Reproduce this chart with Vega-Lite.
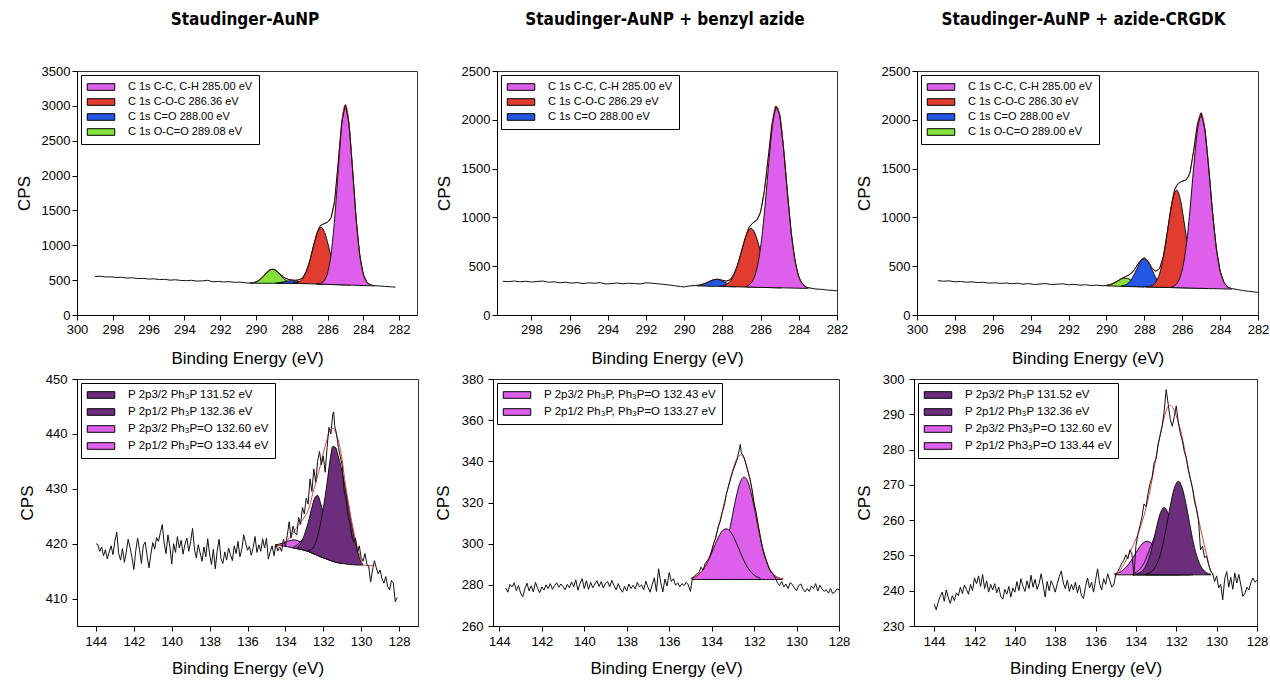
{
"$schema": "https://vega.github.io/schema/vega-lite/v6.json",
"padding": {"left": 14, "top": 10, "right": 0, "bottom": 0},
"bounds": "full",
"spacing": 5,
"resolve": {"scale": {"x": "independent", "y": "independent", "color": "independent"}, "legend": {"color": "independent"}},
"datasets": {
"p1a": [
{"E":290.28,"t":459,"b":455,"c":"C 1s O-C=O 289.08 eV"},{"E":290.08,"t":468,"b":455,"c":"C 1s O-C=O 289.08 eV"},{"E":289.88,"t":489,"b":455,"c":"C 1s O-C=O 289.08 eV"},{"E":289.68,"t":530,"b":455,"c":"C 1s O-C=O 289.08 eV"},{"E":289.48,"t":585,"b":455,"c":"C 1s O-C=O 289.08 eV"},{"E":289.28,"t":636,"b":455,"c":"C 1s O-C=O 289.08 eV"},{"E":289.08,"t":657,"b":455,"c":"C 1s O-C=O 289.08 eV"},{"E":288.88,"t":636,"b":455,"c":"C 1s O-C=O 289.08 eV"},{"E":288.68,"t":585,"b":455,"c":"C 1s O-C=O 289.08 eV"},{"E":288.48,"t":530,"b":455,"c":"C 1s O-C=O 289.08 eV"},{"E":288.28,"t":489,"b":455,"c":"C 1s O-C=O 289.08 eV"},{"E":288.08,"t":468,"b":455,"c":"C 1s O-C=O 289.08 eV"},{"E":287.88,"t":459,"b":455,"c":"C 1s O-C=O 289.08 eV"},
{"E":288.9,"t":455,"b":453,"c":"C 1s C=O 288.00 eV"},{"E":288.8,"t":460,"b":453,"c":"C 1s C=O 288.00 eV"},{"E":288.6,"t":468,"b":453,"c":"C 1s C=O 288.00 eV"},{"E":288.4,"t":479,"b":453,"c":"C 1s C=O 288.00 eV"},{"E":288.2,"t":489,"b":453,"c":"C 1s C=O 288.00 eV"},{"E":288.0,"t":493,"b":453,"c":"C 1s C=O 288.00 eV"},{"E":287.8,"t":489,"b":453,"c":"C 1s C=O 288.00 eV"},{"E":287.6,"t":479,"b":453,"c":"C 1s C=O 288.00 eV"},{"E":287.4,"t":468,"b":453,"c":"C 1s C=O 288.00 eV"},{"E":287.2,"t":460,"b":453,"c":"C 1s C=O 288.00 eV"},{"E":287.1,"t":455,"b":453,"c":"C 1s C=O 288.00 eV"},
{"E":287.96,"t":457,"b":455,"c":"C 1s C-O-C 286.36 eV"},{"E":287.76,"t":462,"b":453,"c":"C 1s C-O-C 286.36 eV"},{"E":287.56,"t":482,"b":452,"c":"C 1s C-O-C 286.36 eV"},{"E":287.36,"t":532,"b":450,"c":"C 1s C-O-C 286.36 eV"},{"E":287.16,"t":637,"b":449,"c":"C 1s C-O-C 286.36 eV"},{"E":286.96,"t":804,"b":447,"c":"C 1s C-O-C 286.36 eV"},{"E":286.76,"t":1010,"b":445,"c":"C 1s C-O-C 286.36 eV"},{"E":286.56,"t":1187,"b":444,"c":"C 1s C-O-C 286.36 eV"},{"E":286.36,"t":1257,"b":442,"c":"C 1s C-O-C 286.36 eV"},{"E":286.16,"t":1183,"b":440,"c":"C 1s C-O-C 286.36 eV"},{"E":285.96,"t":1004,"b":439,"c":"C 1s C-O-C 286.36 eV"},{"E":285.76,"t":794,"b":437,"c":"C 1s C-O-C 286.36 eV"},{"E":285.56,"t":624,"b":436,"c":"C 1s C-O-C 286.36 eV"},{"E":285.36,"t":516,"b":434,"c":"C 1s C-O-C 286.36 eV"},{"E":285.16,"t":462,"b":432,"c":"C 1s C-O-C 286.36 eV"},{"E":284.96,"t":440,"b":431,"c":"C 1s C-O-C 286.36 eV"},{"E":284.76,"t":431,"b":429,"c":"C 1s C-O-C 286.36 eV"},
{"E":286.6,"t":446,"b":444,"c":"C 1s C-C, C-H 285.00 eV"},{"E":286.4,"t":453,"b":442,"c":"C 1s C-C, C-H 285.00 eV"},{"E":286.2,"t":489,"b":441,"c":"C 1s C-C, C-H 285.00 eV"},{"E":286.0,"t":600,"b":439,"c":"C 1s C-C, C-H 285.00 eV"},{"E":285.8,"t":875,"b":437,"c":"C 1s C-C, C-H 285.00 eV"},{"E":285.6,"t":1387,"b":436,"c":"C 1s C-C, C-H 285.00 eV"},{"E":285.4,"t":2088,"b":434,"c":"C 1s C-C, C-H 285.00 eV"},{"E":285.2,"t":2739,"b":433,"c":"C 1s C-C, C-H 285.00 eV"},{"E":285.0,"t":3008,"b":431,"c":"C 1s C-C, C-H 285.00 eV"},{"E":284.8,"t":2735,"b":429,"c":"C 1s C-C, C-H 285.00 eV"},{"E":284.6,"t":2082,"b":428,"c":"C 1s C-C, C-H 285.00 eV"},{"E":284.4,"t":1377,"b":426,"c":"C 1s C-C, C-H 285.00 eV"},{"E":284.2,"t":862,"b":424,"c":"C 1s C-C, C-H 285.00 eV"},{"E":284.0,"t":584,"b":423,"c":"C 1s C-C, C-H 285.00 eV"},{"E":283.8,"t":469,"b":421,"c":"C 1s C-C, C-H 285.00 eV"},{"E":283.6,"t":431,"b":420,"c":"C 1s C-C, C-H 285.00 eV"},{"E":283.4,"t":420,"b":418,"c":"C 1s C-C, C-H 285.00 eV"}
],
"p1f": [
{"E":290.4,"v":457},{"E":290.2,"v":461},{"E":290.0,"v":474},{"E":289.8,"v":503},{"E":289.6,"v":551},{"E":289.4,"v":607},{"E":289.2,"v":649},{"E":289.0,"v":656},{"E":288.8,"v":625},{"E":288.6,"v":575},{"E":288.4,"v":535},{"E":288.2,"v":513},{"E":288.0,"v":502},{"E":287.8,"v":498},{"E":287.6,"v":503},{"E":287.4,"v":533},{"E":287.2,"v":617},{"E":287.0,"v":768},{"E":286.8,"v":975},{"E":286.6,"v":1170},{"E":286.4,"v":1280},{"E":286.2,"v":1310},{"E":286.0,"v":1330},{"E":285.8,"v":1400},{"E":285.6,"v":1640},{"E":285.4,"v":2190},{"E":285.2,"v":2776},{"E":285.0,"v":3020},{"E":284.8,"v":2738},{"E":284.6,"v":2083},{"E":284.4,"v":1377},{"E":284.2,"v":862},{"E":284.0,"v":584},{"E":283.8,"v":469},{"E":283.6,"v":431},{"E":283.4,"v":420}
],
"p1r": [
{"E":299.0,"v":552},{"E":298.7,"v":556},{"E":298.4,"v":545},{"E":298.1,"v":548},{"E":297.8,"v":538},{"E":297.5,"v":541},{"E":297.2,"v":530},{"E":296.9,"v":534},{"E":296.6,"v":522},{"E":296.3,"v":526},{"E":296.0,"v":515},{"E":295.7,"v":519},{"E":295.4,"v":508},{"E":295.1,"v":512},{"E":294.8,"v":500},{"E":294.5,"v":505},{"E":294.2,"v":496},{"E":293.9,"v":492},{"E":293.6,"v":498},{"E":293.3,"v":486},{"E":293.0,"v":490},{"E":292.7,"v":497},{"E":292.4,"v":476},{"E":292.1,"v":482},{"E":291.8,"v":474},{"E":291.5,"v":478},{"E":291.2,"v":468},{"E":290.9,"v":472},{"E":290.6,"v":462},{"E":290.4,"v":458},{"E":290.2,"v":463},{"E":290.0,"v":472},{"E":289.8,"v":505},{"E":289.6,"v":550},{"E":289.4,"v":608},{"E":289.2,"v":648},{"E":289.0,"v":655},{"E":288.8,"v":624},{"E":288.6,"v":576},{"E":288.4,"v":534},{"E":288.2,"v":512},{"E":288.0,"v":503},{"E":287.8,"v":497},{"E":287.6,"v":505},{"E":287.4,"v":532},{"E":287.2,"v":618},{"E":287.0,"v":766},{"E":286.8,"v":976},{"E":286.6,"v":1168},{"E":286.4,"v":1282},{"E":286.2,"v":1308},{"E":286.0,"v":1332},{"E":285.8,"v":1398},{"E":285.6,"v":1642},{"E":285.4,"v":2192},{"E":285.2,"v":2775},{"E":285.0,"v":3015},{"E":284.8,"v":2740},{"E":284.6,"v":2085},{"E":284.4,"v":1378},{"E":284.2,"v":863},{"E":284.0,"v":585},{"E":283.8,"v":470},{"E":283.6,"v":432},{"E":283.4,"v":421},{"E":283.1,"v":416},{"E":282.8,"v":410},{"E":282.5,"v":405},{"E":282.2,"v":400}
],
"p2a": [
{"E":289.3,"t":298,"b":298,"c":"C 1s C=O 288.00 eV"},{"E":289.1,"t":309,"b":297,"c":"C 1s C=O 288.00 eV"},{"E":288.9,"t":323,"b":296,"c":"C 1s C=O 288.00 eV"},{"E":288.7,"t":341,"b":295,"c":"C 1s C=O 288.00 eV"},{"E":288.5,"t":359,"b":294,"c":"C 1s C=O 288.00 eV"},{"E":288.3,"t":366,"b":294,"c":"C 1s C=O 288.00 eV"},{"E":288.1,"t":357,"b":293,"c":"C 1s C=O 288.00 eV"},{"E":287.9,"t":338,"b":292,"c":"C 1s C=O 288.00 eV"},{"E":287.7,"t":318,"b":291,"c":"C 1s C=O 288.00 eV"},{"E":287.5,"t":302,"b":290,"c":"C 1s C=O 288.00 eV"},{"E":287.3,"t":290,"b":289,"c":"C 1s C=O 288.00 eV"},
{"E":288.1,"t":296,"b":293,"c":"C 1s C-O-C 286.29 eV"},{"E":287.9,"t":304,"b":292,"c":"C 1s C-O-C 286.29 eV"},{"E":287.7,"t":325,"b":291,"c":"C 1s C-O-C 286.29 eV"},{"E":287.5,"t":371,"b":290,"c":"C 1s C-O-C 286.29 eV"},{"E":287.3,"t":456,"b":289,"c":"C 1s C-O-C 286.29 eV"},{"E":287.1,"t":580,"b":288,"c":"C 1s C-O-C 286.29 eV"},{"E":286.9,"t":723,"b":287,"c":"C 1s C-O-C 286.29 eV"},{"E":286.7,"t":840,"b":286,"c":"C 1s C-O-C 286.29 eV"},{"E":286.5,"t":886,"b":286,"c":"C 1s C-O-C 286.29 eV"},{"E":286.3,"t":839,"b":285,"c":"C 1s C-O-C 286.29 eV"},{"E":286.1,"t":720,"b":284,"c":"C 1s C-O-C 286.29 eV"},{"E":285.9,"t":575,"b":283,"c":"C 1s C-O-C 286.29 eV"},{"E":285.7,"t":449,"b":282,"c":"C 1s C-O-C 286.29 eV"},{"E":285.5,"t":362,"b":281,"c":"C 1s C-O-C 286.29 eV"},{"E":285.3,"t":314,"b":280,"c":"C 1s C-O-C 286.29 eV"},{"E":285.1,"t":291,"b":279,"c":"C 1s C-O-C 286.29 eV"},{"E":284.9,"t":282,"b":278,"c":"C 1s C-O-C 286.29 eV"},
{"E":286.75,"t":296,"b":287,"c":"C 1s C-C, C-H 285.00 eV"},{"E":286.55,"t":317,"b":286,"c":"C 1s C-C, C-H 285.00 eV"},{"E":286.35,"t":377,"b":285,"c":"C 1s C-C, C-H 285.00 eV"},{"E":286.15,"t":515,"b":284,"c":"C 1s C-C, C-H 285.00 eV"},{"E":285.95,"t":771,"b":283,"c":"C 1s C-C, C-H 285.00 eV"},{"E":285.75,"t":1156,"b":282,"c":"C 1s C-C, C-H 285.00 eV"},{"E":285.55,"t":1607,"b":281,"c":"C 1s C-C, C-H 285.00 eV"},{"E":285.35,"t":1983,"b":280,"c":"C 1s C-C, C-H 285.00 eV"},{"E":285.15,"t":2129,"b":279,"c":"C 1s C-C, C-H 285.00 eV"},{"E":284.95,"t":1981,"b":279,"c":"C 1s C-C, C-H 285.00 eV"},{"E":284.75,"t":1604,"b":278,"c":"C 1s C-C, C-H 285.00 eV"},{"E":284.55,"t":1151,"b":277,"c":"C 1s C-C, C-H 285.00 eV"},{"E":284.35,"t":764,"b":276,"c":"C 1s C-C, C-H 285.00 eV"},{"E":284.15,"t":506,"b":275,"c":"C 1s C-C, C-H 285.00 eV"},{"E":283.95,"t":366,"b":274,"c":"C 1s C-C, C-H 285.00 eV"},{"E":283.75,"t":304,"b":273,"c":"C 1s C-C, C-H 285.00 eV"},{"E":283.55,"t":281,"b":272,"c":"C 1s C-C, C-H 285.00 eV"}
],
"p2f": [
{"E":289.6,"v":300},{"E":289.4,"v":301},{"E":289.2,"v":306},{"E":289.0,"v":316},{"E":288.8,"v":332},{"E":288.6,"v":351},{"E":288.4,"v":364},{"E":288.2,"v":365},{"E":288.0,"v":355},{"E":287.8,"v":347},{"E":287.6,"v":362},{"E":287.4,"v":416},{"E":287.2,"v":516},{"E":287.0,"v":653},{"E":286.8,"v":794},{"E":286.6,"v":897},{"E":286.4,"v":944},{"E":286.2,"v":971},{"E":286.0,"v":1058},{"E":285.8,"v":1274},{"E":285.6,"v":1614},{"E":285.4,"v":1958},{"E":285.2,"v":2141},{"E":285.0,"v":2052},{"E":284.8,"v":1714},{"E":284.6,"v":1262},{"E":284.4,"v":849},{"E":284.2,"v":558},{"E":284.0,"v":392},{"E":283.8,"v":314},{"E":283.6,"v":285},{"E":283.4,"v":275}
],
"p2r": [
{"E":299.5,"v":345},{"E":299.2,"v":342},{"E":298.9,"v":348},{"E":298.6,"v":340},{"E":298.3,"v":346},{"E":298.0,"v":338},{"E":297.7,"v":344},{"E":297.4,"v":348},{"E":297.1,"v":336},{"E":296.8,"v":340},{"E":296.5,"v":330},{"E":296.2,"v":336},{"E":295.9,"v":326},{"E":295.6,"v":333},{"E":295.3,"v":322},{"E":295.0,"v":330},{"E":294.7,"v":325},{"E":294.4,"v":332},{"E":294.1,"v":318},{"E":293.8,"v":322},{"E":293.5,"v":328},{"E":293.2,"v":320},{"E":292.9,"v":326},{"E":292.6,"v":322},{"E":292.3,"v":318},{"E":292.0,"v":330},{"E":291.7,"v":326},{"E":291.4,"v":320},{"E":291.1,"v":315},{"E":290.8,"v":308},{"E":290.5,"v":300},{"E":290.2,"v":292},{"E":290.0,"v":287},{"E":289.8,"v":296},{"E":289.6,"v":300},{"E":289.4,"v":303},{"E":289.2,"v":306},{"E":289.0,"v":318},{"E":288.8,"v":332},{"E":288.6,"v":352},{"E":288.4,"v":363},{"E":288.2,"v":366},{"E":288.0,"v":355},{"E":287.8,"v":348},{"E":287.6,"v":361},{"E":287.4,"v":417},{"E":287.2,"v":515},{"E":287.0,"v":655},{"E":286.8,"v":792},{"E":286.6,"v":898},{"E":286.4,"v":945},{"E":286.2,"v":972},{"E":286.0,"v":1056},{"E":285.8,"v":1276},{"E":285.6,"v":1612},{"E":285.4,"v":1960},{"E":285.2,"v":2140},{"E":285.0,"v":2054},{"E":284.8,"v":1712},{"E":284.6,"v":1264},{"E":284.4,"v":848},{"E":284.2,"v":560},{"E":284.0,"v":390},{"E":283.8,"v":315},{"E":283.6,"v":284},{"E":283.4,"v":276},{"E":283.1,"v":266},{"E":282.8,"v":263},{"E":282.5,"v":255},{"E":282.2,"v":252},{"E":282.0,"v":248}
],
"p3a": [
{"E":290.0,"t":303,"b":298,"c":"C 1s O-C=O 289.00 eV"},{"E":289.8,"t":311,"b":297,"c":"C 1s O-C=O 289.00 eV"},{"E":289.6,"t":327,"b":296,"c":"C 1s O-C=O 289.00 eV"},{"E":289.4,"t":350,"b":295,"c":"C 1s O-C=O 289.00 eV"},{"E":289.2,"t":370,"b":294,"c":"C 1s O-C=O 289.00 eV"},{"E":289.0,"t":378,"b":293,"c":"C 1s O-C=O 289.00 eV"},{"E":288.8,"t":368,"b":292,"c":"C 1s O-C=O 289.00 eV"},{"E":288.6,"t":346,"b":291,"c":"C 1s O-C=O 289.00 eV"},{"E":288.4,"t":321,"b":290,"c":"C 1s O-C=O 289.00 eV"},{"E":288.2,"t":303,"b":289,"c":"C 1s O-C=O 289.00 eV"},{"E":288.0,"t":293,"b":288,"c":"C 1s O-C=O 289.00 eV"},
{"E":289.2,"t":298,"b":294,"c":"C 1s C=O 288.00 eV"},{"E":289.0,"t":308,"b":293,"c":"C 1s C=O 288.00 eV"},{"E":288.8,"t":335,"b":292,"c":"C 1s C=O 288.00 eV"},{"E":288.6,"t":390,"b":291,"c":"C 1s C=O 288.00 eV"},{"E":288.4,"t":470,"b":290,"c":"C 1s C=O 288.00 eV"},{"E":288.2,"t":546,"b":289,"c":"C 1s C=O 288.00 eV"},{"E":288.0,"t":578,"b":288,"c":"C 1s C=O 288.00 eV"},{"E":287.8,"t":544,"b":287,"c":"C 1s C=O 288.00 eV"},{"E":287.6,"t":466,"b":286,"c":"C 1s C=O 288.00 eV"},{"E":287.4,"t":384,"b":285,"c":"C 1s C=O 288.00 eV"},{"E":287.2,"t":327,"b":284,"c":"C 1s C=O 288.00 eV"},{"E":287.0,"t":298,"b":283,"c":"C 1s C=O 288.00 eV"},{"E":286.8,"t":286,"b":282,"c":"C 1s C=O 288.00 eV"},
{"E":287.9,"t":290,"b":288,"c":"C 1s C-O-C 286.30 eV"},{"E":287.7,"t":295,"b":287,"c":"C 1s C-O-C 286.30 eV"},{"E":287.5,"t":314,"b":286,"c":"C 1s C-O-C 286.30 eV"},{"E":287.3,"t":370,"b":285,"c":"C 1s C-O-C 286.30 eV"},{"E":287.1,"t":490,"b":284,"c":"C 1s C-O-C 286.30 eV"},{"E":286.9,"t":694,"b":283,"c":"C 1s C-O-C 286.30 eV"},{"E":286.7,"t":956,"b":282,"c":"C 1s C-O-C 286.30 eV"},{"E":286.5,"t":1187,"b":281,"c":"C 1s C-O-C 286.30 eV"},{"E":286.3,"t":1280,"b":280,"c":"C 1s C-O-C 286.30 eV"},{"E":286.1,"t":1185,"b":279,"c":"C 1s C-O-C 286.30 eV"},{"E":285.9,"t":952,"b":278,"c":"C 1s C-O-C 286.30 eV"},{"E":285.7,"t":688,"b":277,"c":"C 1s C-O-C 286.30 eV"},{"E":285.5,"t":482,"b":276,"c":"C 1s C-O-C 286.30 eV"},{"E":285.3,"t":360,"b":275,"c":"C 1s C-O-C 286.30 eV"},{"E":285.1,"t":303,"b":274,"c":"C 1s C-O-C 286.30 eV"},{"E":284.9,"t":281,"b":273,"c":"C 1s C-O-C 286.30 eV"},{"E":284.7,"t":274,"b":272,"c":"C 1s C-O-C 286.30 eV"},
{"E":286.6,"t":286,"b":281,"c":"C 1s C-C, C-H 285.00 eV"},{"E":286.4,"t":301,"b":280,"c":"C 1s C-C, C-H 285.00 eV"},{"E":286.2,"t":347,"b":279,"c":"C 1s C-C, C-H 285.00 eV"},{"E":286.0,"t":462,"b":278,"c":"C 1s C-C, C-H 285.00 eV"},{"E":285.8,"t":692,"b":277,"c":"C 1s C-C, C-H 285.00 eV"},{"E":285.6,"t":1058,"b":276,"c":"C 1s C-C, C-H 285.00 eV"},{"E":285.4,"t":1504,"b":275,"c":"C 1s C-C, C-H 285.00 eV"},{"E":285.2,"t":1886,"b":274,"c":"C 1s C-C, C-H 285.00 eV"},{"E":285.0,"t":2038,"b":273,"c":"C 1s C-C, C-H 285.00 eV"},{"E":284.8,"t":1884,"b":272,"c":"C 1s C-C, C-H 285.00 eV"},{"E":284.6,"t":1500,"b":271,"c":"C 1s C-C, C-H 285.00 eV"},{"E":284.4,"t":1052,"b":270,"c":"C 1s C-C, C-H 285.00 eV"},{"E":284.2,"t":684,"b":269,"c":"C 1s C-C, C-H 285.00 eV"},{"E":284.0,"t":452,"b":268,"c":"C 1s C-C, C-H 285.00 eV"},{"E":283.8,"t":335,"b":267,"c":"C 1s C-C, C-H 285.00 eV"},{"E":283.6,"t":287,"b":266,"c":"C 1s C-C, C-H 285.00 eV"},{"E":283.4,"t":270,"b":265,"c":"C 1s C-C, C-H 285.00 eV"}
],
"p3f": [
{"E":290.2,"v":300},{"E":290.0,"v":303},{"E":289.8,"v":311},{"E":289.6,"v":327},{"E":289.4,"v":350},{"E":289.2,"v":374},{"E":289.0,"v":393},{"E":288.8,"v":411},{"E":288.6,"v":444},{"E":288.4,"v":501},{"E":288.2,"v":560},{"E":288.0,"v":584},{"E":287.8,"v":550},{"E":287.6,"v":481},{"E":287.4,"v":450},{"E":287.2,"v":475},{"E":287.0,"v":600},{"E":286.8,"v":830},{"E":286.6,"v":1090},{"E":286.4,"v":1285},{"E":286.2,"v":1350},{"E":286.0,"v":1370},{"E":285.8,"v":1385},{"E":285.6,"v":1450},{"E":285.4,"v":1680},{"E":285.2,"v":1950},{"E":285.0,"v":2070},{"E":284.8,"v":1900},{"E":284.6,"v":1505},{"E":284.4,"v":1052},{"E":284.2,"v":684},{"E":284.0,"v":452},{"E":283.8,"v":335},{"E":283.6,"v":287},{"E":283.4,"v":270}
],
"p3r": [
{"E":298.9,"v":352},{"E":298.6,"v":346},{"E":298.3,"v":350},{"E":298.0,"v":340},{"E":297.7,"v":344},{"E":297.4,"v":336},{"E":297.1,"v":340},{"E":296.8,"v":332},{"E":296.5,"v":336},{"E":296.2,"v":326},{"E":295.9,"v":330},{"E":295.6,"v":324},{"E":295.3,"v":328},{"E":295.0,"v":320},{"E":294.7,"v":326},{"E":294.4,"v":316},{"E":294.1,"v":322},{"E":293.8,"v":312},{"E":293.5,"v":318},{"E":293.2,"v":322},{"E":292.9,"v":312},{"E":292.6,"v":316},{"E":292.3,"v":320},{"E":292.0,"v":310},{"E":291.7,"v":314},{"E":291.4,"v":306},{"E":291.1,"v":310},{"E":290.8,"v":302},{"E":290.5,"v":306},{"E":290.2,"v":299},{"E":290.0,"v":304},{"E":289.8,"v":310},{"E":289.6,"v":328},{"E":289.4,"v":349},{"E":289.2,"v":375},{"E":289.0,"v":392},{"E":288.8,"v":412},{"E":288.6,"v":443},{"E":288.4,"v":502},{"E":288.2,"v":559},{"E":288.0,"v":586},{"E":287.8,"v":549},{"E":287.6,"v":482},{"E":287.4,"v":449},{"E":287.2,"v":476},{"E":287.0,"v":598},{"E":286.8,"v":832},{"E":286.6,"v":1088},{"E":286.4,"v":1287},{"E":286.2,"v":1348},{"E":286.0,"v":1372},{"E":285.8,"v":1383},{"E":285.6,"v":1452},{"E":285.4,"v":1678},{"E":285.2,"v":1952},{"E":285.0,"v":2072},{"E":284.8,"v":1898},{"E":284.6,"v":1506},{"E":284.4,"v":1050},{"E":284.2,"v":686},{"E":284.0,"v":451},{"E":283.8,"v":336},{"E":283.6,"v":286},{"E":283.4,"v":271},{"E":283.1,"v":262},{"E":282.8,"v":250},{"E":282.5,"v":244},{"E":282.2,"v":236},{"E":282.0,"v":232}
],
"p4a": [
{"E":134.5,"t":419.8,"b":419.75,"c":"P 2p1/2 Ph₃P=O 133.44 eV"},{"E":134.3,"t":419.95,"b":419.65,"c":"P 2p1/2 Ph₃P=O 133.44 eV"},{"E":134.1,"t":420.15,"b":419.55,"c":"P 2p1/2 Ph₃P=O 133.44 eV"},{"E":133.9,"t":420.4,"b":419.45,"c":"P 2p1/2 Ph₃P=O 133.44 eV"},{"E":133.7,"t":420.6,"b":419.3,"c":"P 2p1/2 Ph₃P=O 133.44 eV"},{"E":133.55,"t":420.7,"b":419.2,"c":"P 2p1/2 Ph₃P=O 133.44 eV"},{"E":133.4,"t":420.6,"b":419.1,"c":"P 2p1/2 Ph₃P=O 133.44 eV"},{"E":133.2,"t":420.3,"b":419.0,"c":"P 2p1/2 Ph₃P=O 133.44 eV"},{"E":133.0,"t":419.9,"b":418.8,"c":"P 2p1/2 Ph₃P=O 133.44 eV"},{"E":132.8,"t":419.4,"b":418.6,"c":"P 2p1/2 Ph₃P=O 133.44 eV"},{"E":132.6,"t":418.9,"b":418.3,"c":"P 2p1/2 Ph₃P=O 133.44 eV"},{"E":132.4,"t":418.3,"b":418.0,"c":"P 2p1/2 Ph₃P=O 133.44 eV"},{"E":132.2,"t":417.75,"b":417.7,"c":"P 2p1/2 Ph₃P=O 133.44 eV"},
{"E":133.6,"t":419.3,"b":419.25,"c":"P 2p3/2 Ph₃P=O 132.60 eV"},{"E":133.4,"t":419.7,"b":419.1,"c":"P 2p3/2 Ph₃P=O 132.60 eV"},{"E":133.2,"t":420.4,"b":419.0,"c":"P 2p3/2 Ph₃P=O 132.60 eV"},{"E":133.0,"t":421.1,"b":418.8,"c":"P 2p3/2 Ph₃P=O 132.60 eV"},{"E":132.8,"t":421.7,"b":418.6,"c":"P 2p3/2 Ph₃P=O 132.60 eV"},{"E":132.65,"t":421.9,"b":418.4,"c":"P 2p3/2 Ph₃P=O 132.60 eV"},{"E":132.5,"t":421.6,"b":418.15,"c":"P 2p3/2 Ph₃P=O 132.60 eV"},{"E":132.3,"t":420.6,"b":417.9,"c":"P 2p3/2 Ph₃P=O 132.60 eV"},{"E":132.1,"t":419.5,"b":417.55,"c":"P 2p3/2 Ph₃P=O 132.60 eV"},{"E":131.9,"t":418.5,"b":417.3,"c":"P 2p3/2 Ph₃P=O 132.60 eV"},{"E":131.7,"t":417.6,"b":417.05,"c":"P 2p3/2 Ph₃P=O 132.60 eV"},{"E":131.5,"t":417.0,"b":416.8,"c":"P 2p3/2 Ph₃P=O 132.60 eV"},{"E":131.3,"t":416.65,"b":416.6,"c":"P 2p3/2 Ph₃P=O 132.60 eV"},
{"E":133.4,"t":419.3,"b":419.1,"c":"P 2p1/2 Ph₃P 132.36 eV"},{"E":133.2,"t":420.0,"b":419.0,"c":"P 2p1/2 Ph₃P 132.36 eV"},{"E":133.0,"t":421.6,"b":418.8,"c":"P 2p1/2 Ph₃P 132.36 eV"},{"E":132.8,"t":423.8,"b":418.6,"c":"P 2p1/2 Ph₃P 132.36 eV"},{"E":132.6,"t":426.6,"b":418.3,"c":"P 2p1/2 Ph₃P 132.36 eV"},{"E":132.45,"t":428.3,"b":418.1,"c":"P 2p1/2 Ph₃P 132.36 eV"},{"E":132.3,"t":428.8,"b":417.9,"c":"P 2p1/2 Ph₃P 132.36 eV"},{"E":132.15,"t":427.5,"b":417.6,"c":"P 2p1/2 Ph₃P 132.36 eV"},{"E":132.0,"t":425.6,"b":417.4,"c":"P 2p1/2 Ph₃P 132.36 eV"},{"E":131.8,"t":423.6,"b":417.2,"c":"P 2p1/2 Ph₃P 132.36 eV"},{"E":131.6,"t":421.2,"b":416.9,"c":"P 2p1/2 Ph₃P 132.36 eV"},{"E":131.4,"t":418.8,"b":416.7,"c":"P 2p1/2 Ph₃P 132.36 eV"},{"E":131.2,"t":417.0,"b":416.5,"c":"P 2p1/2 Ph₃P 132.36 eV"},{"E":131.0,"t":416.45,"b":416.4,"c":"P 2p1/2 Ph₃P 132.36 eV"},
{"E":132.8,"t":418.7,"b":418.6,"c":"P 2p3/2 Ph₃P 131.52 eV"},{"E":132.6,"t":419.0,"b":418.3,"c":"P 2p3/2 Ph₃P 131.52 eV"},{"E":132.4,"t":420.2,"b":418.0,"c":"P 2p3/2 Ph₃P 131.52 eV"},{"E":132.2,"t":422.8,"b":417.7,"c":"P 2p3/2 Ph₃P 131.52 eV"},{"E":132.0,"t":426.5,"b":417.4,"c":"P 2p3/2 Ph₃P 131.52 eV"},{"E":131.8,"t":431.0,"b":417.2,"c":"P 2p3/2 Ph₃P 131.52 eV"},{"E":131.65,"t":435.0,"b":416.95,"c":"P 2p3/2 Ph₃P 131.52 eV"},{"E":131.5,"t":437.7,"b":416.8,"c":"P 2p3/2 Ph₃P 131.52 eV"},{"E":131.35,"t":437.5,"b":416.6,"c":"P 2p3/2 Ph₃P 131.52 eV"},{"E":131.2,"t":435.8,"b":416.5,"c":"P 2p3/2 Ph₃P 131.52 eV"},{"E":131.0,"t":433.0,"b":416.4,"c":"P 2p3/2 Ph₃P 131.52 eV"},{"E":130.8,"t":429.5,"b":416.3,"c":"P 2p3/2 Ph₃P 131.52 eV"},{"E":130.6,"t":425.5,"b":416.2,"c":"P 2p3/2 Ph₃P 131.52 eV"},{"E":130.4,"t":421.8,"b":416.15,"c":"P 2p3/2 Ph₃P 131.52 eV"},{"E":130.2,"t":418.8,"b":416.1,"c":"P 2p3/2 Ph₃P 131.52 eV"},{"E":130.0,"t":416.6,"b":416.1,"c":"P 2p3/2 Ph₃P 131.52 eV"},{"E":129.9,"t":416.1,"b":416.1,"c":"P 2p3/2 Ph₃P 131.52 eV"}
],
"p4f": [
{"E":134.6,"v":419.4},{"E":134.26,"v":419.75},{"E":133.9,"v":420.6},{"E":133.65,"v":421.7},{"E":133.3,"v":423.5},{"E":133.0,"v":424.8},{"E":132.78,"v":426.2},{"E":132.55,"v":429.2},{"E":132.35,"v":431.7},{"E":132.15,"v":434.3},{"E":132.0,"v":436.5},{"E":131.8,"v":439.0},{"E":131.65,"v":440.7},{"E":131.48,"v":441.0},{"E":131.3,"v":439.8},{"E":131.13,"v":437.7},{"E":131.0,"v":435.2},{"E":130.87,"v":431.7},{"E":130.7,"v":428.0},{"E":130.52,"v":424.4},{"E":130.35,"v":421.5},{"E":130.17,"v":419.0},{"E":130.0,"v":417.0},{"E":129.91,"v":416.2},{"E":129.7,"v":416.0},{"E":129.3,"v":416.0}
],
"p4r": [
{"E":144.0,"v":420.0},{"E":143.9,"v":419.8},{"E":143.8,"v":418.6},{"E":143.7,"v":419.4},{"E":143.6,"v":417.8},{"E":143.5,"v":418.9},{"E":143.4,"v":417.2},{"E":143.3,"v":418.5},{"E":143.2,"v":419.6},{"E":143.1,"v":418.0},{"E":143.0,"v":420.5},{"E":142.9,"v":422.1},{"E":142.8,"v":418.2},{"E":142.7,"v":417.0},{"E":142.6,"v":419.1},{"E":142.5,"v":416.6},{"E":142.4,"v":418.4},{"E":142.3,"v":420.8},{"E":142.2,"v":419.3},{"E":142.1,"v":417.5},{"E":142.0,"v":415.3},{"E":141.9,"v":418.7},{"E":141.8,"v":421.0},{"E":141.7,"v":418.9},{"E":141.6,"v":416.4},{"E":141.5,"v":419.7},{"E":141.4,"v":420.3},{"E":141.3,"v":417.8},{"E":141.2,"v":415.6},{"E":141.1,"v":418.1},{"E":141.0,"v":420.2},{"E":140.9,"v":419.0},{"E":140.8,"v":421.1},{"E":140.7,"v":420.4},{"E":140.6,"v":422.0},{"E":140.5,"v":423.5},{"E":140.4,"v":420.1},{"E":140.3,"v":418.2},{"E":140.2,"v":421.6},{"E":140.1,"v":419.5},{"E":140.0,"v":416.3},{"E":139.9,"v":420.0},{"E":139.8,"v":418.4},{"E":139.7,"v":421.3},{"E":139.6,"v":419.2},{"E":139.5,"v":420.6},{"E":139.4,"v":418.1},{"E":139.3,"v":419.9},{"E":139.2,"v":421.0},{"E":139.1,"v":418.6},{"E":139.0,"v":420.4},{"E":138.9,"v":422.8},{"E":138.8,"v":419.0},{"E":138.7,"v":417.4},{"E":138.6,"v":419.8},{"E":138.5,"v":418.3},{"E":138.4,"v":416.8},{"E":138.3,"v":419.4},{"E":138.2,"v":417.6},{"E":138.1,"v":420.9},{"E":138.0,"v":418.1},{"E":137.9,"v":416.2},{"E":137.8,"v":419.0},{"E":137.7,"v":415.4},{"E":137.6,"v":418.7},{"E":137.5,"v":420.8},{"E":137.4,"v":417.3},{"E":137.3,"v":416.4},{"E":137.2,"v":418.5},{"E":137.1,"v":417.0},{"E":137.0,"v":419.2},{"E":136.9,"v":418.0},{"E":136.8,"v":416.9},{"E":136.7,"v":419.6},{"E":136.6,"v":418.2},{"E":136.5,"v":420.4},{"E":136.4,"v":417.6},{"E":136.3,"v":419.0},{"E":136.2,"v":421.6},{"E":136.1,"v":420.2},{"E":136.0,"v":418.8},{"E":135.9,"v":419.5},{"E":135.8,"v":417.9},{"E":135.7,"v":419.3},{"E":135.6,"v":421.3},{"E":135.5,"v":418.4},{"E":135.4,"v":419.8},{"E":135.3,"v":418.6},{"E":135.2,"v":420.9},{"E":135.1,"v":419.2},{"E":135.0,"v":421.0},{"E":134.9,"v":417.2},{"E":134.8,"v":418.5},{"E":134.7,"v":419.6},{"E":134.6,"v":417.8},{"E":134.5,"v":419.9},{"E":134.4,"v":418.7},{"E":134.3,"v":419.4},{"E":134.2,"v":418.6},{"E":134.1,"v":420.8},{"E":134.0,"v":419.5},{"E":133.9,"v":421.5},{"E":133.8,"v":424.0},{"E":133.7,"v":421.0},{"E":133.6,"v":423.2},{"E":133.5,"v":422.0},{"E":133.4,"v":421.6},{"E":133.3,"v":424.8},{"E":133.2,"v":423.5},{"E":133.1,"v":426.6},{"E":133.0,"v":425.4},{"E":132.9,"v":428.3},{"E":132.8,"v":427.2},{"E":132.7,"v":431.8},{"E":132.6,"v":429.5},{"E":132.5,"v":433.6},{"E":132.4,"v":431.2},{"E":132.3,"v":435.0},{"E":132.2,"v":436.8},{"E":132.1,"v":434.4},{"E":132.0,"v":436.0},{"E":131.9,"v":433.0},{"E":131.8,"v":437.5},{"E":131.7,"v":441.2},{"E":131.6,"v":440.0},{"E":131.5,"v":443.6},{"E":131.45,"v":444.0},{"E":131.4,"v":441.5},{"E":131.3,"v":440.0},{"E":131.2,"v":437.5},{"E":131.1,"v":435.8},{"E":131.0,"v":434.2},{"E":130.9,"v":429.6},{"E":130.8,"v":428.2},{"E":130.7,"v":425.0},{"E":130.6,"v":423.8},{"E":130.5,"v":421.5},{"E":130.4,"v":420.3},{"E":130.3,"v":421.0},{"E":130.2,"v":418.4},{"E":130.1,"v":419.6},{"E":130.0,"v":417.5},{"E":129.9,"v":416.8},{"E":129.8,"v":418.2},{"E":129.7,"v":416.3},{"E":129.6,"v":415.8},{"E":129.5,"v":413.0},{"E":129.4,"v":415.2},{"E":129.3,"v":416.9},{"E":129.2,"v":415.6},{"E":129.1,"v":414.5},{"E":129.0,"v":415.2},{"E":128.9,"v":413.6},{"E":128.8,"v":412.8},{"E":128.7,"v":414.0},{"E":128.6,"v":412.2},{"E":128.5,"v":411.6},{"E":128.4,"v":413.3},{"E":128.3,"v":412.8},{"E":128.2,"v":409.4},{"E":128.1,"v":410.2}
],
"p5a": [
{"E":134.27,"t":282.9,"b":282.6,"c":"P 2p3/2 Ph₃P, Ph₃P=O 132.43 eV"},{"E":134.07,"t":283.5,"b":282.6,"c":"P 2p3/2 Ph₃P, Ph₃P=O 132.43 eV"},{"E":133.87,"t":284.9,"b":282.6,"c":"P 2p3/2 Ph₃P, Ph₃P=O 132.43 eV"},{"E":133.67,"t":287.8,"b":282.6,"c":"P 2p3/2 Ph₃P, Ph₃P=O 132.43 eV"},{"E":133.47,"t":293.0,"b":282.6,"c":"P 2p3/2 Ph₃P, Ph₃P=O 132.43 eV"},{"E":133.27,"t":300.9,"b":282.6,"c":"P 2p3/2 Ph₃P, Ph₃P=O 132.43 eV"},{"E":133.07,"t":311.0,"b":282.6,"c":"P 2p3/2 Ph₃P, Ph₃P=O 132.43 eV"},{"E":132.87,"t":321.4,"b":282.6,"c":"P 2p3/2 Ph₃P, Ph₃P=O 132.43 eV"},{"E":132.67,"t":329.4,"b":282.6,"c":"P 2p3/2 Ph₃P, Ph₃P=O 132.43 eV"},{"E":132.47,"t":332.4,"b":282.6,"c":"P 2p3/2 Ph₃P, Ph₃P=O 132.43 eV"},{"E":132.27,"t":329.4,"b":282.6,"c":"P 2p3/2 Ph₃P, Ph₃P=O 132.43 eV"},{"E":132.07,"t":321.4,"b":282.6,"c":"P 2p3/2 Ph₃P, Ph₃P=O 132.43 eV"},{"E":131.87,"t":311.0,"b":282.6,"c":"P 2p3/2 Ph₃P, Ph₃P=O 132.43 eV"},{"E":131.67,"t":300.9,"b":282.6,"c":"P 2p3/2 Ph₃P, Ph₃P=O 132.43 eV"},{"E":131.47,"t":293.0,"b":282.6,"c":"P 2p3/2 Ph₃P, Ph₃P=O 132.43 eV"},{"E":131.27,"t":287.8,"b":282.6,"c":"P 2p3/2 Ph₃P, Ph₃P=O 132.43 eV"},{"E":131.07,"t":284.9,"b":282.6,"c":"P 2p3/2 Ph₃P, Ph₃P=O 132.43 eV"},{"E":130.87,"t":283.5,"b":282.6,"c":"P 2p3/2 Ph₃P, Ph₃P=O 132.43 eV"},{"E":130.67,"t":282.9,"b":282.6,"c":"P 2p3/2 Ph₃P, Ph₃P=O 132.43 eV"},
{"E":134.92,"t":283.3,"b":282.6,"c":"P 2p1/2 Ph₃P, Ph₃P=O 133.27 eV"},{"E":134.72,"t":284.2,"b":282.6,"c":"P 2p1/2 Ph₃P, Ph₃P=O 133.27 eV"},{"E":134.52,"t":285.9,"b":282.6,"c":"P 2p1/2 Ph₃P, Ph₃P=O 133.27 eV"},{"E":134.32,"t":288.7,"b":282.6,"c":"P 2p1/2 Ph₃P, Ph₃P=O 133.27 eV"},{"E":134.12,"t":292.7,"b":282.6,"c":"P 2p1/2 Ph₃P, Ph₃P=O 133.27 eV"},{"E":133.92,"t":297.5,"b":282.6,"c":"P 2p1/2 Ph₃P, Ph₃P=O 133.27 eV"},{"E":133.72,"t":302.3,"b":282.6,"c":"P 2p1/2 Ph₃P, Ph₃P=O 133.27 eV"},{"E":133.52,"t":305.9,"b":282.6,"c":"P 2p1/2 Ph₃P, Ph₃P=O 133.27 eV"},{"E":133.32,"t":307.2,"b":282.6,"c":"P 2p1/2 Ph₃P, Ph₃P=O 133.27 eV"},{"E":133.12,"t":305.9,"b":282.6,"c":"P 2p1/2 Ph₃P, Ph₃P=O 133.27 eV"},{"E":132.92,"t":302.3,"b":282.6,"c":"P 2p1/2 Ph₃P, Ph₃P=O 133.27 eV"},{"E":132.72,"t":297.5,"b":282.6,"c":"P 2p1/2 Ph₃P, Ph₃P=O 133.27 eV"},{"E":132.52,"t":292.7,"b":282.6,"c":"P 2p1/2 Ph₃P, Ph₃P=O 133.27 eV"},{"E":132.32,"t":288.7,"b":282.6,"c":"P 2p1/2 Ph₃P, Ph₃P=O 133.27 eV"},{"E":132.12,"t":285.9,"b":282.6,"c":"P 2p1/2 Ph₃P, Ph₃P=O 133.27 eV"},{"E":131.92,"t":284.2,"b":282.6,"c":"P 2p1/2 Ph₃P, Ph₃P=O 133.27 eV"},{"E":131.72,"t":283.3,"b":282.6,"c":"P 2p1/2 Ph₃P, Ph₃P=O 133.27 eV"}
],
"p5f": [
{"E":135.0,"v":283.1},{"E":134.8,"v":283.8},{"E":134.6,"v":285.1},{"E":134.4,"v":287.6},{"E":134.2,"v":291.5},{"E":134.0,"v":296.8},{"E":133.8,"v":303.6},{"E":133.6,"v":311.5},{"E":133.4,"v":319.9},{"E":133.2,"v":328.4},{"E":133.0,"v":336.0},{"E":132.8,"v":341.5},{"E":132.6,"v":343.1},{"E":132.4,"v":339.6},{"E":132.2,"v":331.3},{"E":132.0,"v":320.1},{"E":131.8,"v":308.3},{"E":131.6,"v":298.3},{"E":131.4,"v":291.0},{"E":131.2,"v":286.6},{"E":131.0,"v":284.3},{"E":130.8,"v":283.2},{"E":130.6,"v":282.8}
],
"p5r": [
{"E":143.7,"v":278.5},{"E":143.6,"v":276.4},{"E":143.5,"v":280.2},{"E":143.4,"v":279.0},{"E":143.3,"v":281.0},{"E":143.2,"v":277.2},{"E":143.1,"v":279.6},{"E":143.0,"v":276.0},{"E":142.9,"v":274.2},{"E":142.8,"v":278.0},{"E":142.7,"v":280.8},{"E":142.6,"v":277.1},{"E":142.5,"v":279.5},{"E":142.4,"v":276.6},{"E":142.3,"v":281.2},{"E":142.2,"v":278.4},{"E":142.1,"v":276.2},{"E":142.0,"v":279.0},{"E":141.9,"v":277.4},{"E":141.8,"v":280.0},{"E":141.7,"v":278.2},{"E":141.6,"v":280.6},{"E":141.5,"v":277.8},{"E":141.4,"v":279.6},{"E":141.3,"v":281.0},{"E":141.2,"v":278.8},{"E":141.1,"v":280.4},{"E":141.0,"v":279.2},{"E":140.9,"v":277.6},{"E":140.8,"v":280.2},{"E":140.7,"v":278.6},{"E":140.6,"v":281.4},{"E":140.5,"v":279.0},{"E":140.4,"v":282.4},{"E":140.3,"v":277.4},{"E":140.2,"v":280.6},{"E":140.1,"v":283.0},{"E":140.0,"v":278.2},{"E":139.9,"v":282.0},{"E":139.8,"v":277.8},{"E":139.7,"v":281.2},{"E":139.6,"v":278.6},{"E":139.5,"v":280.4},{"E":139.4,"v":282.0},{"E":139.3,"v":279.2},{"E":139.2,"v":281.6},{"E":139.1,"v":278.4},{"E":139.0,"v":280.8},{"E":138.9,"v":281.6},{"E":138.8,"v":279.0},{"E":138.7,"v":282.2},{"E":138.6,"v":279.6},{"E":138.5,"v":277.6},{"E":138.4,"v":280.6},{"E":138.3,"v":278.0},{"E":138.2,"v":276.4},{"E":138.1,"v":279.2},{"E":138.0,"v":277.0},{"E":137.9,"v":280.4},{"E":137.8,"v":278.2},{"E":137.7,"v":279.8},{"E":137.6,"v":278.0},{"E":137.5,"v":281.2},{"E":137.4,"v":279.0},{"E":137.3,"v":280.0},{"E":137.2,"v":277.6},{"E":137.1,"v":281.8},{"E":137.0,"v":278.8},{"E":136.9,"v":276.4},{"E":136.8,"v":280.0},{"E":136.7,"v":283.4},{"E":136.6,"v":276.8},{"E":136.5,"v":287.8},{"E":136.4,"v":281.4},{"E":136.3,"v":276.6},{"E":136.2,"v":282.8},{"E":136.1,"v":279.4},{"E":136.0,"v":286.0},{"E":135.9,"v":281.6},{"E":135.8,"v":283.0},{"E":135.7,"v":279.8},{"E":135.6,"v":281.0},{"E":135.5,"v":279.0},{"E":135.4,"v":280.6},{"E":135.3,"v":279.6},{"E":135.2,"v":281.2},{"E":135.1,"v":280.0},{"E":135.0,"v":276.8},{"E":134.9,"v":283.6},{"E":134.8,"v":284.2},{"E":134.7,"v":285.4},{"E":134.6,"v":285.8},{"E":134.5,"v":288.6},{"E":134.4,"v":287.2},{"E":134.3,"v":290.4},{"E":134.2,"v":291.8},{"E":134.1,"v":293.0},{"E":134.0,"v":296.4},{"E":133.9,"v":300.4},{"E":133.8,"v":303.0},{"E":133.7,"v":308.0},{"E":133.6,"v":310.6},{"E":133.5,"v":315.2},{"E":133.4,"v":318.8},{"E":133.3,"v":324.4},{"E":133.2,"v":328.0},{"E":133.1,"v":331.8},{"E":133.0,"v":335.2},{"E":132.9,"v":338.0},{"E":132.8,"v":341.0},{"E":132.7,"v":345.6},{"E":132.65,"v":348.2},{"E":132.6,"v":344.0},{"E":132.5,"v":342.6},{"E":132.4,"v":339.2},{"E":132.3,"v":335.4},{"E":132.2,"v":331.8},{"E":132.1,"v":326.6},{"E":132.0,"v":319.4},{"E":131.9,"v":315.2},{"E":131.8,"v":308.8},{"E":131.7,"v":303.0},{"E":131.6,"v":297.6},{"E":131.5,"v":294.0},{"E":131.4,"v":291.2},{"E":131.3,"v":288.0},{"E":131.2,"v":286.2},{"E":131.1,"v":285.0},{"E":131.0,"v":283.4},{"E":130.9,"v":281.0},{"E":130.8,"v":279.6},{"E":130.7,"v":281.6},{"E":130.6,"v":279.0},{"E":130.5,"v":280.4},{"E":130.4,"v":278.2},{"E":130.3,"v":281.0},{"E":130.2,"v":280.2},{"E":130.1,"v":278.4},{"E":130.0,"v":277.2},{"E":129.9,"v":279.6},{"E":129.8,"v":280.4},{"E":129.7,"v":278.0},{"E":129.6,"v":276.6},{"E":129.5,"v":278.2},{"E":129.4,"v":276.8},{"E":129.3,"v":279.4},{"E":129.2,"v":278.2},{"E":129.1,"v":280.6},{"E":129.0,"v":277.0},{"E":128.9,"v":279.8},{"E":128.8,"v":278.0},{"E":128.7,"v":276.8},{"E":128.6,"v":277.6},{"E":128.5,"v":276.0},{"E":128.4,"v":278.2},{"E":128.3,"v":275.8},{"E":128.2,"v":276.4},{"E":128.1,"v":278.0},{"E":128.0,"v":277.6}
],
"p6a": [
{"E":135.05,"t":244.8,"b":244.5,"c":"P 2p1/2 Ph3₃P=O 133.44 eV"},{"E":134.85,"t":245.1,"b":244.5,"c":"P 2p1/2 Ph3₃P=O 133.44 eV"},{"E":134.65,"t":245.8,"b":244.5,"c":"P 2p1/2 Ph3₃P=O 133.44 eV"},{"E":134.45,"t":246.9,"b":244.5,"c":"P 2p1/2 Ph3₃P=O 133.44 eV"},{"E":134.25,"t":248.4,"b":244.5,"c":"P 2p1/2 Ph3₃P=O 133.44 eV"},{"E":134.05,"t":250.3,"b":244.5,"c":"P 2p1/2 Ph3₃P=O 133.44 eV"},{"E":133.85,"t":252.1,"b":244.5,"c":"P 2p1/2 Ph3₃P=O 133.44 eV"},{"E":133.65,"t":253.5,"b":244.5,"c":"P 2p1/2 Ph3₃P=O 133.44 eV"},{"E":133.45,"t":254.0,"b":244.5,"c":"P 2p1/2 Ph3₃P=O 133.44 eV"},{"E":133.25,"t":253.5,"b":244.5,"c":"P 2p1/2 Ph3₃P=O 133.44 eV"},{"E":133.05,"t":252.1,"b":244.5,"c":"P 2p1/2 Ph3₃P=O 133.44 eV"},{"E":132.85,"t":250.3,"b":244.5,"c":"P 2p1/2 Ph3₃P=O 133.44 eV"},{"E":132.65,"t":248.4,"b":244.5,"c":"P 2p1/2 Ph3₃P=O 133.44 eV"},{"E":132.45,"t":246.9,"b":244.5,"c":"P 2p1/2 Ph3₃P=O 133.44 eV"},{"E":132.25,"t":245.8,"b":244.5,"c":"P 2p1/2 Ph3₃P=O 133.44 eV"},{"E":132.05,"t":245.1,"b":244.5,"c":"P 2p1/2 Ph3₃P=O 133.44 eV"},{"E":131.85,"t":244.8,"b":244.5,"c":"P 2p1/2 Ph3₃P=O 133.44 eV"},
{"E":134.16,"t":244.7,"b":244.5,"c":"P 2p3/2 Ph3₃P=O 132.60 eV"},{"E":133.96,"t":245.3,"b":244.5,"c":"P 2p3/2 Ph3₃P=O 132.60 eV"},{"E":133.76,"t":246.4,"b":244.5,"c":"P 2p3/2 Ph3₃P=O 132.60 eV"},{"E":133.56,"t":248.3,"b":244.5,"c":"P 2p3/2 Ph3₃P=O 132.60 eV"},{"E":133.36,"t":251.1,"b":244.5,"c":"P 2p3/2 Ph3₃P=O 132.60 eV"},{"E":133.16,"t":254.1,"b":244.5,"c":"P 2p3/2 Ph3₃P=O 132.60 eV"},{"E":132.96,"t":256.6,"b":244.5,"c":"P 2p3/2 Ph3₃P=O 132.60 eV"},{"E":132.76,"t":257.6,"b":244.5,"c":"P 2p3/2 Ph3₃P=O 132.60 eV"},{"E":132.56,"t":256.6,"b":244.5,"c":"P 2p3/2 Ph3₃P=O 132.60 eV"},{"E":132.36,"t":254.1,"b":244.5,"c":"P 2p3/2 Ph3₃P=O 132.60 eV"},{"E":132.16,"t":251.1,"b":244.5,"c":"P 2p3/2 Ph3₃P=O 132.60 eV"},{"E":131.96,"t":248.3,"b":244.5,"c":"P 2p3/2 Ph3₃P=O 132.60 eV"},{"E":131.76,"t":246.4,"b":244.5,"c":"P 2p3/2 Ph3₃P=O 132.60 eV"},{"E":131.56,"t":245.3,"b":244.5,"c":"P 2p3/2 Ph3₃P=O 132.60 eV"},{"E":131.36,"t":244.7,"b":244.5,"c":"P 2p3/2 Ph3₃P=O 132.60 eV"},
{"E":134.0,"t":244.7,"b":244.5,"c":"P 2p1/2 Ph₃P 132.36 eV"},{"E":133.8,"t":245.1,"b":244.5,"c":"P 2p1/2 Ph₃P 132.36 eV"},{"E":133.6,"t":246.2,"b":244.5,"c":"P 2p1/2 Ph₃P 132.36 eV"},{"E":133.4,"t":248.5,"b":244.5,"c":"P 2p1/2 Ph₃P 132.36 eV"},{"E":133.2,"t":252.4,"b":244.5,"c":"P 2p1/2 Ph₃P 132.36 eV"},{"E":133.0,"t":257.4,"b":244.5,"c":"P 2p1/2 Ph₃P 132.36 eV"},{"E":132.8,"t":261.8,"b":244.5,"c":"P 2p1/2 Ph₃P 132.36 eV"},{"E":132.6,"t":263.6,"b":244.5,"c":"P 2p1/2 Ph₃P 132.36 eV"},{"E":132.4,"t":261.8,"b":244.5,"c":"P 2p1/2 Ph₃P 132.36 eV"},{"E":132.2,"t":257.4,"b":244.5,"c":"P 2p1/2 Ph₃P 132.36 eV"},{"E":132.0,"t":252.4,"b":244.5,"c":"P 2p1/2 Ph₃P 132.36 eV"},{"E":131.8,"t":248.5,"b":244.5,"c":"P 2p1/2 Ph₃P 132.36 eV"},{"E":131.6,"t":246.2,"b":244.5,"c":"P 2p1/2 Ph₃P 132.36 eV"},{"E":131.4,"t":245.1,"b":244.5,"c":"P 2p1/2 Ph₃P 132.36 eV"},{"E":131.2,"t":244.7,"b":244.5,"c":"P 2p1/2 Ph₃P 132.36 eV"},
{"E":133.5,"t":244.7,"b":244.5,"c":"P 2p3/2 Ph₃P 131.52 eV"},{"E":133.3,"t":245.1,"b":244.5,"c":"P 2p3/2 Ph₃P 131.52 eV"},{"E":133.1,"t":246.2,"b":244.5,"c":"P 2p3/2 Ph₃P 131.52 eV"},{"E":132.9,"t":248.4,"b":244.5,"c":"P 2p3/2 Ph₃P 131.52 eV"},{"E":132.7,"t":252.2,"b":244.5,"c":"P 2p3/2 Ph₃P 131.52 eV"},{"E":132.5,"t":257.8,"b":244.5,"c":"P 2p3/2 Ph₃P 131.52 eV"},{"E":132.3,"t":264.0,"b":244.5,"c":"P 2p3/2 Ph₃P 131.52 eV"},{"E":132.1,"t":269.0,"b":244.5,"c":"P 2p3/2 Ph₃P 131.52 eV"},{"E":131.9,"t":271.0,"b":244.5,"c":"P 2p3/2 Ph₃P 131.52 eV"},{"E":131.7,"t":269.0,"b":244.5,"c":"P 2p3/2 Ph₃P 131.52 eV"},{"E":131.5,"t":264.0,"b":244.5,"c":"P 2p3/2 Ph₃P 131.52 eV"},{"E":131.3,"t":257.8,"b":244.5,"c":"P 2p3/2 Ph₃P 131.52 eV"},{"E":131.1,"t":252.2,"b":244.5,"c":"P 2p3/2 Ph₃P 131.52 eV"},{"E":130.9,"t":248.4,"b":244.5,"c":"P 2p3/2 Ph₃P 131.52 eV"},{"E":130.7,"t":246.2,"b":244.5,"c":"P 2p3/2 Ph₃P 131.52 eV"},{"E":130.5,"t":245.1,"b":244.5,"c":"P 2p3/2 Ph₃P 131.52 eV"},{"E":130.3,"t":244.7,"b":244.5,"c":"P 2p3/2 Ph₃P 131.52 eV"}
],
"p6f": [
{"E":134.94,"v":244.5},{"E":134.5,"v":248.5},{"E":134.12,"v":253.1},{"E":133.8,"v":257.6},{"E":133.54,"v":262.6},{"E":133.3,"v":268.5},{"E":133.12,"v":274.1},{"E":132.95,"v":279.5},{"E":132.79,"v":284.5},{"E":132.6,"v":289.0},{"E":132.46,"v":291.7},{"E":132.3,"v":292.6},{"E":132.21,"v":292.2},{"E":132.05,"v":290.3},{"E":131.88,"v":287.4},{"E":131.7,"v":283.4},{"E":131.55,"v":278.8},{"E":131.35,"v":273.2},{"E":131.14,"v":267.4},{"E":130.95,"v":261.7},{"E":130.73,"v":255.9},{"E":130.5,"v":250.3},{"E":130.31,"v":245.9},{"E":130.15,"v":244.5}
],
"p6r": [
{"E":144.0,"v":236.2},{"E":143.9,"v":234.6},{"E":143.8,"v":236.8},{"E":143.7,"v":238.4},{"E":143.6,"v":239.6},{"E":143.5,"v":237.0},{"E":143.4,"v":240.2},{"E":143.3,"v":238.0},{"E":143.2,"v":236.4},{"E":143.1,"v":238.6},{"E":143.0,"v":237.2},{"E":142.9,"v":239.4},{"E":142.8,"v":238.6},{"E":142.7,"v":241.0},{"E":142.6,"v":239.2},{"E":142.5,"v":241.6},{"E":142.4,"v":240.4},{"E":142.3,"v":239.0},{"E":142.2,"v":241.8},{"E":142.1,"v":240.0},{"E":142.0,"v":243.6},{"E":141.9,"v":242.0},{"E":141.8,"v":244.2},{"E":141.7,"v":241.2},{"E":141.6,"v":244.6},{"E":141.5,"v":240.6},{"E":141.4,"v":242.8},{"E":141.3,"v":239.6},{"E":141.2,"v":241.8},{"E":141.1,"v":240.2},{"E":141.0,"v":242.0},{"E":140.9,"v":239.4},{"E":140.8,"v":241.0},{"E":140.7,"v":238.4},{"E":140.6,"v":237.6},{"E":140.5,"v":240.4},{"E":140.4,"v":239.0},{"E":140.3,"v":241.2},{"E":140.2,"v":238.2},{"E":140.1,"v":240.8},{"E":140.0,"v":239.6},{"E":139.9,"v":242.6},{"E":139.8,"v":240.0},{"E":139.7,"v":243.4},{"E":139.6,"v":241.2},{"E":139.5,"v":239.8},{"E":139.4,"v":242.8},{"E":139.3,"v":240.6},{"E":139.2,"v":244.4},{"E":139.1,"v":241.0},{"E":139.0,"v":243.2},{"E":138.9,"v":240.4},{"E":138.8,"v":242.0},{"E":138.7,"v":244.8},{"E":138.6,"v":241.6},{"E":138.5,"v":238.2},{"E":138.4,"v":242.6},{"E":138.3,"v":240.0},{"E":138.2,"v":242.8},{"E":138.1,"v":241.4},{"E":138.0,"v":239.6},{"E":137.9,"v":242.0},{"E":137.8,"v":244.0},{"E":137.7,"v":245.6},{"E":137.6,"v":242.2},{"E":137.5,"v":240.6},{"E":137.4,"v":243.0},{"E":137.3,"v":239.8},{"E":137.2,"v":241.8},{"E":137.1,"v":240.2},{"E":137.0,"v":242.4},{"E":136.9,"v":239.4},{"E":136.8,"v":241.6},{"E":136.7,"v":238.6},{"E":136.6,"v":237.8},{"E":136.5,"v":241.2},{"E":136.4,"v":243.6},{"E":136.3,"v":240.8},{"E":136.2,"v":242.4},{"E":136.1,"v":239.6},{"E":136.0,"v":243.0},{"E":135.9,"v":246.2},{"E":135.8,"v":242.0},{"E":135.7,"v":240.2},{"E":135.6,"v":243.4},{"E":135.5,"v":241.8},{"E":135.4,"v":244.8},{"E":135.3,"v":243.0},{"E":135.2,"v":241.0},{"E":135.1,"v":241.6},{"E":135.0,"v":244.6},{"E":134.9,"v":245.4},{"E":134.8,"v":246.6},{"E":134.7,"v":247.8},{"E":134.6,"v":248.6},{"E":134.5,"v":250.2},{"E":134.4,"v":249.0},{"E":134.3,"v":251.6},{"E":134.2,"v":250.4},{"E":134.1,"v":244.2},{"E":134.0,"v":252.8},{"E":133.9,"v":256.0},{"E":133.8,"v":258.4},{"E":133.7,"v":261.0},{"E":133.6,"v":264.6},{"E":133.5,"v":263.8},{"E":133.4,"v":267.6},{"E":133.3,"v":270.4},{"E":133.2,"v":272.2},{"E":133.1,"v":276.2},{"E":133.0,"v":277.4},{"E":132.9,"v":281.6},{"E":132.8,"v":284.0},{"E":132.7,"v":286.6},{"E":132.6,"v":291.0},{"E":132.5,"v":297.0},{"E":132.4,"v":292.8},{"E":132.3,"v":288.6},{"E":132.2,"v":286.6},{"E":132.1,"v":289.4},{"E":132.0,"v":292.4},{"E":131.9,"v":287.6},{"E":131.8,"v":284.6},{"E":131.7,"v":282.4},{"E":131.6,"v":279.4},{"E":131.5,"v":277.6},{"E":131.4,"v":274.0},{"E":131.3,"v":271.6},{"E":131.2,"v":269.2},{"E":131.1,"v":265.4},{"E":131.0,"v":263.2},{"E":130.9,"v":260.0},{"E":130.8,"v":251.6},{"E":130.7,"v":252.6},{"E":130.6,"v":249.4},{"E":130.5,"v":249.8},{"E":130.4,"v":247.4},{"E":130.3,"v":245.6},{"E":130.2,"v":244.8},{"E":130.1,"v":242.6},{"E":130.0,"v":244.2},{"E":129.9,"v":240.8},{"E":129.8,"v":241.8},{"E":129.7,"v":237.4},{"E":129.6,"v":243.4},{"E":129.5,"v":245.4},{"E":129.4,"v":241.0},{"E":129.3,"v":243.8},{"E":129.2,"v":240.4},{"E":129.1,"v":245.0},{"E":129.0,"v":242.2},{"E":128.9,"v":244.6},{"E":128.8,"v":241.6},{"E":128.7,"v":238.4},{"E":128.6,"v":239.2},{"E":128.5,"v":241.0},{"E":128.4,"v":240.2},{"E":128.3,"v":242.4},{"E":128.2,"v":243.6},{"E":128.1,"v":242.4},{"E":128.0,"v":243.0}
]
},
"vconcat": [
{
"hconcat": [
{
"width": 340, "height": 244,
"title": {"text": "Staudinger-AuNP", "dx": -2},
"layer": [
{"data": {"name": "p1a"}, "mark": {"type": "area", "interpolate": "monotone", "stroke": "#111", "strokeWidth": 1, "opacity": 1},
 "encoding": {
  "x": {"field": "E", "type": "quantitative", "title": "Binding Energy (eV)", "scale": {"domain": [281, 300], "reverse": true, "nice": false, "zero": false}, "axis": {"values": [300,298,296,294,292,290,288,286,284,282], "format": "d"}},
  "y": {"field": "t", "type": "quantitative", "stack": null, "title": "CPS", "scale": {"domain": [0, 3500], "nice": false, "zero": false}, "axis": {"values": [0,500,1000,1500,2000,2500,3000,3500], "format": "d"}},
  "y2": {"field": "b"},
  "color": {"field": "c", "type": "nominal", "scale": {"domain": ["C 1s C-C, C-H 285.00 eV","C 1s C-O-C 286.36 eV","C 1s C=O 288.00 eV","C 1s O-C=O 289.08 eV"], "range": ["#de5feb","#e23b2f","#2457e6","#86e03c"]}, "legend": {"title": null}}
 }},
{"data": {"name": "p1f"}, "mark": {"type": "line", "color": "#e0453a", "strokeWidth": 1, "interpolate": "monotone"}, "encoding": {"x": {"field": "E", "type": "quantitative", "title": "Binding Energy (eV)"}, "y": {"field": "v", "type": "quantitative", "title": "CPS"}}},
{"data": {"name": "p1r"}, "mark": {"type": "line", "color": "#111", "strokeWidth": 1}, "encoding": {"x": {"field": "E", "type": "quantitative", "title": "Binding Energy (eV)"}, "y": {"field": "v", "type": "quantitative", "title": "CPS"}}}
]
},
{
"width": 340, "height": 244,
"title": {"text": "Staudinger-AuNP + benzyl azide", "dx": -2},
"layer": [
{"data": {"name": "p2a"}, "mark": {"type": "area", "interpolate": "monotone", "stroke": "#111", "strokeWidth": 1, "opacity": 1},
 "encoding": {
  "x": {"field": "E", "type": "quantitative", "title": "Binding Energy (eV)", "scale": {"domain": [282, 299.8], "reverse": true, "nice": false, "zero": false}, "axis": {"values": [298,296,294,292,290,288,286,284,282], "format": "d"}},
  "y": {"field": "t", "type": "quantitative", "stack": null, "title": "CPS", "scale": {"domain": [0, 2500], "nice": false, "zero": false}, "axis": {"values": [0,500,1000,1500,2000,2500], "format": "d"}},
  "y2": {"field": "b"},
  "color": {"field": "c", "type": "nominal", "scale": {"domain": ["C 1s C-C, C-H 285.00 eV","C 1s C-O-C 286.29 eV","C 1s C=O 288.00 eV"], "range": ["#de5feb","#e23b2f","#2457e6"]}, "legend": {"title": null}}
 }},
{"data": {"name": "p2f"}, "mark": {"type": "line", "color": "#e0453a", "strokeWidth": 1, "interpolate": "monotone"}, "encoding": {"x": {"field": "E", "type": "quantitative", "title": "Binding Energy (eV)"}, "y": {"field": "v", "type": "quantitative", "title": "CPS"}}},
{"data": {"name": "p2r"}, "mark": {"type": "line", "color": "#111", "strokeWidth": 1}, "encoding": {"x": {"field": "E", "type": "quantitative", "title": "Binding Energy (eV)"}, "y": {"field": "v", "type": "quantitative", "title": "CPS"}}}
]
},
{
"width": 341, "height": 244,
"title": {"text": "Staudinger-AuNP + azide-CRGDK", "dx": -4},
"layer": [
{"data": {"name": "p3a"}, "mark": {"type": "area", "interpolate": "monotone", "stroke": "#111", "strokeWidth": 1, "opacity": 1},
 "encoding": {
  "x": {"field": "E", "type": "quantitative", "title": "Binding Energy (eV)", "scale": {"domain": [282, 300], "reverse": true, "nice": false, "zero": false}, "axis": {"values": [300,298,296,294,292,290,288,286,284,282], "format": "d"}},
  "y": {"field": "t", "type": "quantitative", "stack": null, "title": "CPS", "scale": {"domain": [0, 2500], "nice": false, "zero": false}, "axis": {"values": [0,500,1000,1500,2000,2500], "format": "d"}},
  "y2": {"field": "b"},
  "color": {"field": "c", "type": "nominal", "scale": {"domain": ["C 1s C-C, C-H 285.00 eV","C 1s C-O-C 286.30 eV","C 1s C=O 288.00 eV","C 1s O-C=O 289.00 eV"], "range": ["#de5feb","#e23b2f","#2457e6","#86e03c"]}, "legend": {"title": null}}
 }},
{"data": {"name": "p3f"}, "mark": {"type": "line", "color": "#e0453a", "strokeWidth": 1, "interpolate": "monotone"}, "encoding": {"x": {"field": "E", "type": "quantitative", "title": "Binding Energy (eV)"}, "y": {"field": "v", "type": "quantitative", "title": "CPS"}}},
{"data": {"name": "p3r"}, "mark": {"type": "line", "color": "#111", "strokeWidth": 1}, "encoding": {"x": {"field": "E", "type": "quantitative", "title": "Binding Energy (eV)"}, "y": {"field": "v", "type": "quantitative", "title": "CPS"}}}
]
}
],
"spacing": 80,
"bounds": "flush",
"resolve": {"scale": {"x": "independent", "y": "independent", "color": "independent"}, "legend": {"color": "independent"}}
},
{
"hconcat": [
{
"width": 341, "height": 247,
"layer": [
{"data": {"name": "p4a"}, "mark": {"type": "area", "interpolate": "monotone", "stroke": "#111", "strokeWidth": 1, "opacity": 1},
 "encoding": {
  "x": {"field": "E", "type": "quantitative", "title": "Binding Energy (eV)", "scale": {"domain": [127, 145], "reverse": true, "nice": false, "zero": false}, "axis": {"values": [144,142,140,138,136,134,132,130,128], "format": "d", "labelPadding": 4, "titlePadding": 12}},
  "y": {"field": "t", "type": "quantitative", "stack": null, "title": "CPS", "scale": {"domain": [405, 450], "nice": false, "zero": false}, "axis": {"values": [410,420,430,440,450], "format": "d", "labelPadding": 5, "titlePadding": 9}},
  "y2": {"field": "b"},
  "color": {"field": "c", "type": "nominal", "scale": {"domain": ["P 2p3/2 Ph₃P 131.52 eV","P 2p1/2 Ph₃P 132.36 eV","P 2p3/2 Ph₃P=O 132.60 eV","P 2p1/2 Ph₃P=O 133.44 eV"], "range": ["#6b2d7c","#6b2d7c","#de5feb","#de5feb"]}, "legend": {"title": null, "rowPadding": 5, "labelFontSize": 11.5}}
 }},
{"data": {"name": "p4f"}, "mark": {"type": "line", "color": "#e0453a", "strokeWidth": 1, "interpolate": "monotone"}, "encoding": {"x": {"field": "E", "type": "quantitative", "title": "Binding Energy (eV)"}, "y": {"field": "v", "type": "quantitative", "title": "CPS"}}},
{"data": {"name": "p4r"}, "mark": {"type": "line", "color": "#111", "strokeWidth": 1}, "encoding": {"x": {"field": "E", "type": "quantitative", "title": "Binding Energy (eV)"}, "y": {"field": "v", "type": "quantitative", "title": "CPS"}}}
]
},
{
"width": 346, "height": 247,
"layer": [
{"data": {"name": "p5a"}, "mark": {"type": "area", "interpolate": "monotone", "stroke": "#111", "strokeWidth": 1, "opacity": 1},
 "encoding": {
  "x": {"field": "E", "type": "quantitative", "title": "Binding Energy (eV)", "scale": {"domain": [128, 144.3], "reverse": true, "nice": false, "zero": false}, "axis": {"values": [144,142,140,138,136,134,132,130,128], "format": "d", "labelPadding": 4, "titlePadding": 12}},
  "y": {"field": "t", "type": "quantitative", "stack": null, "title": "CPS", "scale": {"domain": [260, 380], "nice": false, "zero": false}, "axis": {"values": [260,280,300,320,340,360,380], "format": "d", "labelPadding": 5, "titlePadding": 9}},
  "y2": {"field": "b"},
  "color": {"field": "c", "type": "nominal", "scale": {"domain": ["P 2p3/2 Ph₃P, Ph₃P=O 132.43 eV","P 2p1/2 Ph₃P, Ph₃P=O 133.27 eV"], "range": ["#de5feb","#de5feb"]}, "legend": {"title": null, "rowPadding": 5, "labelFontSize": 11.5}}
 }},
{"data": {"name": "p5f"}, "mark": {"type": "line", "color": "#e0453a", "strokeWidth": 1, "interpolate": "monotone"}, "encoding": {"x": {"field": "E", "type": "quantitative", "title": "Binding Energy (eV)"}, "y": {"field": "v", "type": "quantitative", "title": "CPS"}}},
{"data": {"name": "p5r"}, "mark": {"type": "line", "color": "#111", "strokeWidth": 1}, "encoding": {"x": {"field": "E", "type": "quantitative", "title": "Binding Energy (eV)"}, "y": {"field": "v", "type": "quantitative", "title": "CPS"}}}
]
},
{
"width": 343, "height": 247,
"layer": [
{"data": {"name": "p6a"}, "mark": {"type": "area", "interpolate": "monotone", "stroke": "#111", "strokeWidth": 1, "opacity": 1},
 "encoding": {
  "x": {"field": "E", "type": "quantitative", "title": "Binding Energy (eV)", "scale": {"domain": [128, 145], "reverse": true, "nice": false, "zero": false}, "axis": {"values": [144,142,140,138,136,134,132,130,128], "format": "d", "labelPadding": 4, "titlePadding": 12}},
  "y": {"field": "t", "type": "quantitative", "stack": null, "title": "CPS", "scale": {"domain": [230, 300], "nice": false, "zero": false}, "axis": {"values": [230,240,250,260,270,280,290,300], "format": "d", "labelPadding": 5, "titlePadding": 9}},
  "y2": {"field": "b"},
  "color": {"field": "c", "type": "nominal", "scale": {"domain": ["P 2p3/2 Ph₃P 131.52 eV","P 2p1/2 Ph₃P 132.36 eV","P 2p3/2 Ph3₃P=O 132.60 eV","P 2p1/2 Ph3₃P=O 133.44 eV"], "range": ["#6b2d7c","#6b2d7c","#de5feb","#de5feb"]}, "legend": {"title": null, "rowPadding": 5, "labelFontSize": 11.5}}
 }},
{"data": {"name": "p6f"}, "mark": {"type": "line", "color": "#e0453a", "strokeWidth": 1, "interpolate": "monotone"}, "encoding": {"x": {"field": "E", "type": "quantitative", "title": "Binding Energy (eV)"}, "y": {"field": "v", "type": "quantitative", "title": "CPS"}}},
{"data": {"name": "p6r"}, "mark": {"type": "line", "color": "#111", "strokeWidth": 1}, "encoding": {"x": {"field": "E", "type": "quantitative", "title": "Binding Energy (eV)"}, "y": {"field": "v", "type": "quantitative", "title": "CPS"}}}
]
}
],
"spacing": 75,
"bounds": "flush",
"resolve": {"scale": {"x": "independent", "y": "independent", "color": "independent"}, "legend": {"color": "independent"}}
}
],
"config": {
 "font": "Liberation Sans",
 "background": "white",
 "view": {"stroke": "#333", "strokeWidth": 1},
 "axis": {"grid": false, "domainColor": "#000", "domainWidth": 1, "tickColor": "#000", "tickSize": 5, "tickCount": 40, "labelColor": "#000", "labelFont": "Liberation Sans", "labelFontSize": 13, "titleFont": "Liberation Sans", "titleFontSize": 17, "titleFontWeight": "normal", "titleColor": "#000", "labelFlush": false, "labelOverlap": false},
 "axisX": {"labelPadding": 3, "titlePadding": 14},
 "axisY": {"labelPadding": 2, "titlePadding": 8},
 "title": {"font": "DejaVu Sans Condensed, Roboto, Liberation Sans", "fontSize": 17, "fontWeight": "bold", "color": "#000", "offset": 36},
 "legend": {"orient": "top-left", "offset": 4, "padding": 6, "strokeColor": "#000", "fillColor": "#fff", "symbolType": "M-2.5,-0.6H2.5V0.6H-2.5Z", "symbolSize": 121, "symbolStrokeColor": "#000", "symbolStrokeWidth": 1, "symbolOffset": 8, "symbolOpacity": 1, "labelOffset": 21, "labelFont": "Liberation Sans", "labelFontSize": 11, "labelColor": "#000", "labelLimit": 400, "rowPadding": 3}
}
}
